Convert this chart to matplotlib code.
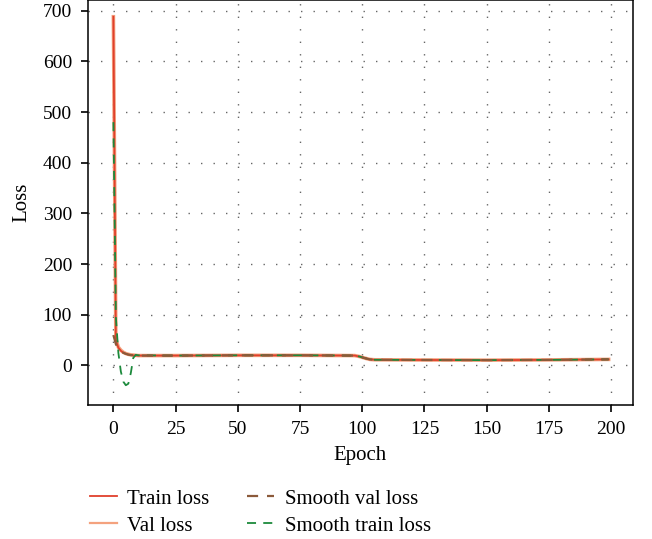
import matplotlib
matplotlib.use("Agg")
import matplotlib.pyplot as plt

# loss curves
epochs = [0, 1, 2, 3, 4, 5, 6, 7, 8, 9, 10, 25, 50, 75, 97, 99, 101, 103, 105, 125, 150, 175, 199]
train_loss = [688, 50, 35, 29, 25, 23, 21.5, 20.5, 20, 19.5, 19.5, 19.5, 20, 20, 19.5, 17.5, 14.5, 12, 11.2, 10.8, 10.5, 11, 12]
val_loss = [688, 52, 36, 30, 26, 23.5, 22, 21, 20.5, 20, 19.5, 19.5, 20, 20, 19.5, 17.5, 14.5, 12, 11.2, 10.8, 10.5, 11, 12]
smooth_val = [60, 42, 33, 28, 25, 23, 21.5, 20.5, 20, 19.5, 19.5, 19.5, 20, 20, 19.5, 17.5, 14.5, 12, 11.2, 10.8, 10.5, 11, 12]
smooth_train = [480, 95, 25, -12, -32, -39, -36, -15, 15, 21, 20, 19.5, 20, 20, 19.5, 17.5, 14.5, 12, 11.2, 10.8, 10.5, 11, 12]

xticks = [0, 25, 50, 75, 100, 125, 150, 175, 200]
yticks = [0, 100, 200, 300, 400, 500, 600, 700]

plt.rcParams['font.family'] = ['Liberation Serif', 'DejaVu Serif']
plt.rcParams['font.size'] = 14

fig = plt.figure(figsize=(6.52, 5.39), dpi=100)
ax = fig.add_axes([88/652, 1-405/539, (633-88)/652, 405/539])

ax.plot(epochs, val_loss, color='#f4a27e', lw=2.6, label='Val loss', zorder=2)
ax.plot(epochs, train_loss, color='#e0402c', lw=1.3, label='Train loss', zorder=3)
ax.plot(epochs, smooth_train, color='#1c8a3c', lw=1.3, ls=(0, (5, 4)), label='Smooth train loss', zorder=4)
ax.plot(epochs, smooth_val, color='#8b5a3a', lw=1.6, ls=(0, (5, 4)), label='Smooth val loss', zorder=5)

ax.set_xlim(-10.2, 208.8)
ax.set_ylim(-78, 721)
ax.set_xticks(xticks)
ax.set_yticks(yticks)
ax.grid(True, color='#666666', lw=1.0, ls=(0, (1, 8)))
ax.tick_params(direction='out', length=5, width=1.2, pad=6.5, top=False, right=False)
for s in ax.spines.values():
    s.set_linewidth(1.1)

ax.set_xlabel('Epoch', fontsize=15, labelpad=6)
ax.set_ylabel('Loss', fontsize=15, labelpad=8)

h, l = ax.get_legend_handles_labels()
order = [1, 0, 3, 2]
leg = fig.legend([h[i] for i in order], [l[i] for i in order], ncol=2, frameon=False, fontsize=15,
                 loc='upper left', bbox_to_anchor=(0.125, 0.108), handlelength=1.3,
                 handletextpad=0.5, columnspacing=1.8, labelspacing=0.35, borderaxespad=0)
leg.get_lines()[1].set_linewidth(1.6)

fig.savefig('out.png', dpi=100)
